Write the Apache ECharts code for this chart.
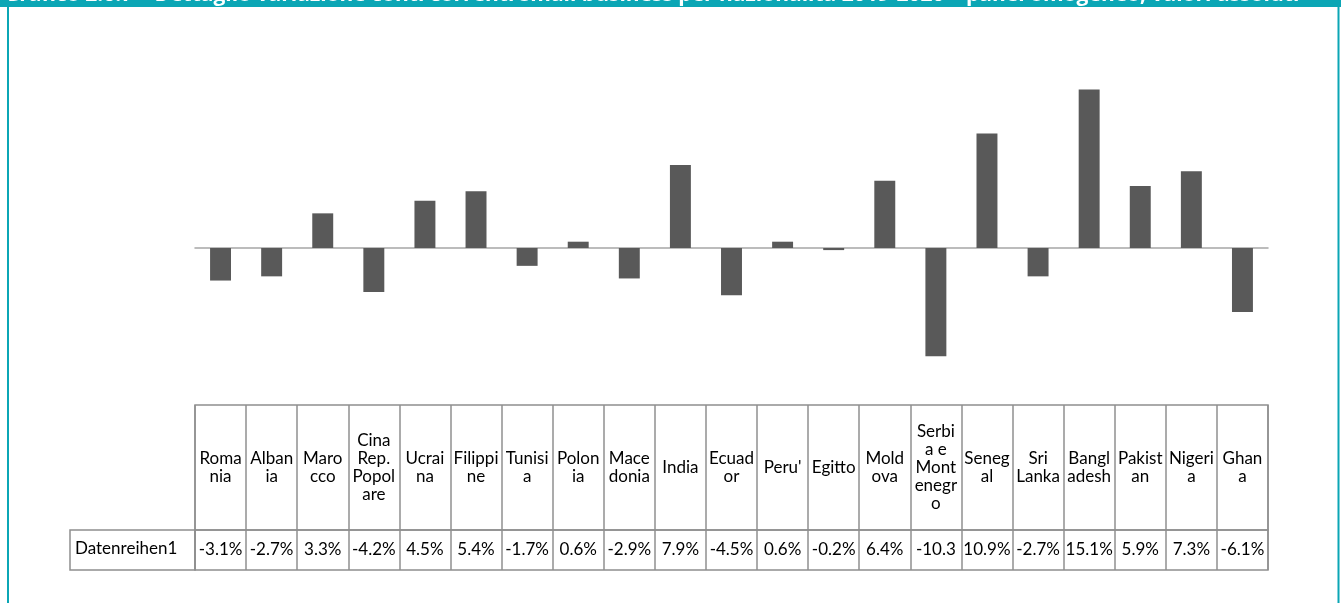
<!DOCTYPE html>
<html><head><meta charset="utf-8">
<style>html,body{margin:0;padding:0;background:#fff;}#c{width:1341px;height:603px;}</style>
<script src="https://cdn.jsdelivr.net/npm/echarts@6/dist/echarts.min.js"></script>
</head><body><div id="c"></div>
<script>
const categories = ["Romania","Albania","Marocco","Cina Rep. Popolare","Ucraina","Filippine","Tunisia","Polonia","Macedonia","India","Ecuador","Peru'","Egitto","Moldova","Serbia e Montenegro","Senegal","Sri Lanka","Bangladesh","Pakistan","Nigeria","Ghana"];
const headerLabels = ["Roma\nnia","Alban\nia","Maro\ncco","Cina\nRep.\nPopol\nare","Ucrai\nna","Filippi\nne","Tunisi\na","Polon\nia","Mace\ndonia","India","Ecuad\nor","Peru'","Egitto","Mold\nova","Serbi\na e\nMont\nenegr\no","Seneg\nal","Sri\nLanka","Bangl\nadesh","Pakist\nan","Nigeri\na","Ghan\na"];
const values = [-3.1,-2.7,3.3,-4.2,4.5,5.4,-1.7,0.6,-2.9,7.9,-4.5,0.6,-0.2,6.4,-10.3,10.9,-2.7,15.1,5.9,7.3,-6.1];
const seriesName = "Datenreihen1";
const titleText = "Grafico 2.6.7 \u2013 Dettaglio variazione conti correnti small business per nazionalit\u00e0 2019-2020 \u2013 panel omogeneo, valori assoluti";

const valueLabels = values.map(v => (v.toFixed(1) + "%").slice(0, 5));
const FONT = "Lato";
const FS = 17;
const TEAL = "#0ba6b5";
const LINE = "#8f8f8f";

const chart = echarts.init(document.getElementById('c'), null, {renderer: 'canvas'});
chart.setOption({
  animation: false,
  backgroundColor: '#fff',
  textStyle: {fontFamily: FONT},
  grid: [
    {left: 195, right: 73, top: 80, height: 315},
    {left: 195, right: 73, top: 405, height: 125, show: true, borderColor: LINE, borderWidth: 1.5},
    {left: 195, right: 73, top: 530, height: 40, show: true, borderColor: LINE, borderWidth: 1.5}
  ],
  xAxis: [
    {gridIndex: 0, type: 'category', data: categories, axisTick: {show: false}, axisLabel: {show: false},
     axisLine: {onZero: true, lineStyle: {color: '#a6a6a6', width: 1.5}}},
    {gridIndex: 1, type: 'category', data: headerLabels, axisTick: {show: false}, axisLine: {show: false},
     splitLine: {show: true, lineStyle: {color: LINE, width: 1.5}},
     axisLabel: {interval: 0, margin: -62, verticalAlign: 'middle', color: '#000', fontSize: FS, lineHeight: 18, fontFamily: FONT}},
    {gridIndex: 2, type: 'category', data: valueLabels, axisTick: {show: false}, axisLine: {show: false},
     splitLine: {show: true, lineStyle: {color: LINE, width: 1.5}},
     axisLabel: {interval: 0, margin: -20, verticalAlign: 'middle', color: '#000', fontSize: FS, fontFamily: FONT}}
  ],
  yAxis: [
    {gridIndex: 0, type: 'value', min: -14, max: 16, show: false, splitLine: {show: false}},
    {gridIndex: 1, type: 'value', show: false, splitLine: {show: false}},
    {gridIndex: 2, type: 'value', show: false, splitLine: {show: false}}
  ],
  series: [
    {name: seriesName, type: 'bar', xAxisIndex: 0, yAxisIndex: 0, data: values, barWidth: '41%',
     itemStyle: {color: '#595959'}}
  ],
  graphic: [
    {type: 'rect', shape: {x: 0, y: 0, width: 1341, height: 7}, style: {fill: TEAL}, z: 10},
    {type: 'text', left: 4, top: -15, style: {text: titleText, fill: '#fff', font: 'bold 21px "Open Sans"'}, z: 11},
    {type: 'rect', shape: {x: 0, y: 7, width: 1341, height: 30}, style: {fill: '#fff'}, z: 12, silent: true},
    {type: 'line', shape: {x1: 8, y1: 0, x2: 8, y2: 603}, style: {stroke: TEAL, lineWidth: 2}, z: 13},
    {type: 'line', shape: {x1: 1338.5, y1: 0, x2: 1338.5, y2: 603}, style: {stroke: TEAL, lineWidth: 2}, z: 13},
    {type: 'rect', shape: {x: 70, y: 530, width: 125, height: 40}, style: {fill: 'rgba(0,0,0,0)', stroke: LINE, lineWidth: 1.5}, z: 5},
    {type: 'text', left: 75, top: 540, style: {text: seriesName, fill: '#000', font: FS + 'px Lato'}, z: 5}
  ]
});
</script></body></html>
